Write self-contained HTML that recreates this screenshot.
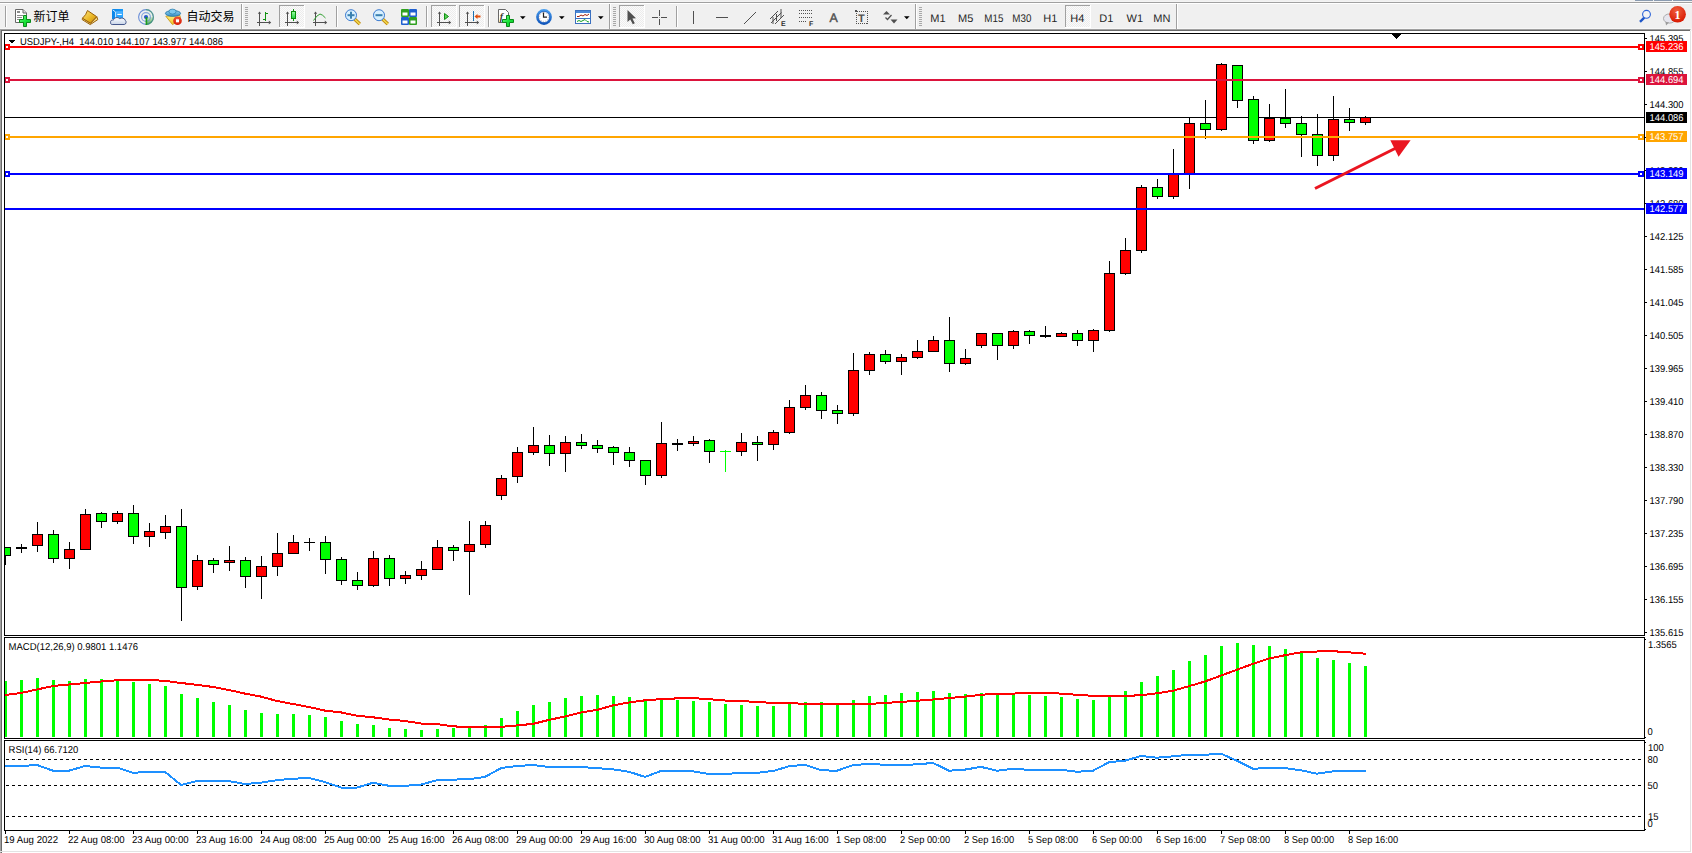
<!DOCTYPE html><html><head><meta charset="utf-8"><title>USDJPY-,H4</title><style>
html,body{margin:0;padding:0;background:#fff;}
body{width:1692px;height:853px;overflow:hidden;position:relative;}
svg{position:absolute;left:0;top:0;display:block;}
text{font-family:"Liberation Sans","Noto Sans CJK SC",sans-serif;text-rendering:geometricPrecision;}
.ax{font-size:9.4px;fill:#000;}
.tb{font-size:11px;fill:#3c3c3c;}
</style></head><body>
<svg width="1692" height="853" viewBox="0 0 1692 853">
<defs><clipPath id="cm"><rect x="5" y="34" width="1639" height="601"/></clipPath><clipPath id="cmacd"><rect x="5" y="638" width="1639" height="100"/></clipPath><clipPath id="crsi"><rect x="5" y="741" width="1639" height="89"/></clipPath></defs>
<g shape-rendering="crispEdges">
<rect x="0" y="0" width="1692" height="1" fill="#f0f0f0"/>
<rect x="0" y="1" width="1692" height="1" fill="#f4f4f4"/>
<rect x="0" y="2" width="1692" height="1" fill="#a0a0a0"/>
<rect x="0" y="3" width="1692" height="1" fill="#ffffff"/>
<rect x="0" y="4" width="1692" height="24" fill="#f0f0f0"/>
<rect x="0" y="28" width="1690" height="1" fill="#f7f7f7"/>
<rect x="0" y="29" width="1690" height="1" fill="#a0a0a0"/>
<rect x="0" y="30" width="1690" height="1" fill="#696969"/>
<rect x="1690" y="28" width="2" height="3" fill="#f4f4f4"/>
<rect x="1690" y="29" width="1" height="1" fill="#c8c8c8"/>
<rect x="0" y="31" width="1692" height="822" fill="#ffffff"/>
<rect x="0" y="30" width="1" height="823" fill="#a0a0a0"/>
<rect x="1" y="31" width="1" height="822" fill="#696969"/>
<rect x="1690" y="31" width="1" height="821" fill="#e3e3e3"/>
<rect x="0" y="851" width="1691" height="1" fill="#e3e3e3"/>
<rect x="1635" y="0" width="18" height="1" fill="#8a9bb0"/>
<rect x="1654" y="0" width="18" height="1" fill="#8a9bb0"/>
<rect x="1673" y="0" width="19" height="1" fill="#8a9bb0"/>
<rect x="4" y="33" width="1641" height="1" fill="#000"/>
<rect x="4" y="635" width="1641" height="1" fill="#000"/>
<rect x="4" y="33" width="1" height="603" fill="#000"/>
<rect x="1644" y="33" width="1" height="603" fill="#000"/>
<rect x="4" y="637" width="1641" height="1" fill="#000"/>
<rect x="4" y="738" width="1641" height="1" fill="#000"/>
<rect x="4" y="637" width="1" height="102" fill="#000"/>
<rect x="1644" y="637" width="1" height="102" fill="#000"/>
<rect x="4" y="740" width="1641" height="1" fill="#000"/>
<rect x="4" y="830" width="1641" height="1" fill="#000"/>
<rect x="4" y="740" width="1" height="91" fill="#000"/>
<rect x="1644" y="740" width="1" height="91" fill="#000"/>
<g clip-path="url(#cm)">
<rect x="5" y="117" width="1639" height="1" fill="#000000"/>
<rect x="5" y="547" width="1" height="18" fill="#000"/>
<rect x="0" y="547" width="11" height="9" fill="#000"/>
<rect x="1" y="548" width="9" height="7" fill="#00ff00"/>
<rect x="21" y="544" width="1" height="9" fill="#000"/>
<rect x="16" y="547" width="11" height="2" fill="#000"/>
<rect x="37" y="522" width="1" height="30" fill="#000"/>
<rect x="32" y="534" width="11" height="12" fill="#000"/>
<rect x="33" y="535" width="9" height="10" fill="#ff0000"/>
<rect x="53" y="530" width="1" height="33" fill="#000"/>
<rect x="48" y="534" width="11" height="25" fill="#000"/>
<rect x="49" y="535" width="9" height="23" fill="#00ff00"/>
<rect x="69" y="542" width="1" height="27" fill="#000"/>
<rect x="64" y="549" width="11" height="10" fill="#000"/>
<rect x="65" y="550" width="9" height="8" fill="#ff0000"/>
<rect x="85" y="509" width="1" height="41" fill="#000"/>
<rect x="80" y="514" width="11" height="36" fill="#000"/>
<rect x="81" y="515" width="9" height="34" fill="#ff0000"/>
<rect x="101" y="512" width="1" height="16" fill="#000"/>
<rect x="96" y="513" width="11" height="9" fill="#000"/>
<rect x="97" y="514" width="9" height="7" fill="#00ff00"/>
<rect x="117" y="511" width="1" height="13" fill="#000"/>
<rect x="112" y="513" width="11" height="9" fill="#000"/>
<rect x="113" y="514" width="9" height="7" fill="#ff0000"/>
<rect x="133" y="505" width="1" height="39" fill="#000"/>
<rect x="128" y="513" width="11" height="24" fill="#000"/>
<rect x="129" y="514" width="9" height="22" fill="#00ff00"/>
<rect x="149" y="523" width="1" height="24" fill="#000"/>
<rect x="144" y="531" width="11" height="6" fill="#000"/>
<rect x="145" y="532" width="9" height="4" fill="#ff0000"/>
<rect x="165" y="515" width="1" height="24" fill="#000"/>
<rect x="160" y="526" width="11" height="7" fill="#000"/>
<rect x="161" y="527" width="9" height="5" fill="#ff0000"/>
<rect x="181" y="509" width="1" height="112" fill="#000"/>
<rect x="176" y="526" width="11" height="62" fill="#000"/>
<rect x="177" y="527" width="9" height="60" fill="#00ff00"/>
<rect x="197" y="555" width="1" height="35" fill="#000"/>
<rect x="192" y="560" width="11" height="27" fill="#000"/>
<rect x="193" y="561" width="9" height="25" fill="#ff0000"/>
<rect x="213" y="558" width="1" height="15" fill="#000"/>
<rect x="208" y="560" width="11" height="5" fill="#000"/>
<rect x="209" y="561" width="9" height="3" fill="#00ff00"/>
<rect x="229" y="546" width="1" height="25" fill="#000"/>
<rect x="224" y="560" width="11" height="3" fill="#000"/>
<rect x="225" y="561" width="9" height="1" fill="#ff0000"/>
<rect x="245" y="557" width="1" height="31" fill="#000"/>
<rect x="240" y="560" width="11" height="17" fill="#000"/>
<rect x="241" y="561" width="9" height="15" fill="#00ff00"/>
<rect x="261" y="556" width="1" height="43" fill="#000"/>
<rect x="256" y="566" width="11" height="11" fill="#000"/>
<rect x="257" y="567" width="9" height="9" fill="#ff0000"/>
<rect x="277" y="533" width="1" height="43" fill="#000"/>
<rect x="272" y="553" width="11" height="14" fill="#000"/>
<rect x="273" y="554" width="9" height="12" fill="#ff0000"/>
<rect x="293" y="535" width="1" height="19" fill="#000"/>
<rect x="288" y="542" width="11" height="12" fill="#000"/>
<rect x="289" y="543" width="9" height="10" fill="#ff0000"/>
<rect x="309" y="538" width="1" height="13" fill="#000"/>
<rect x="304" y="542" width="11" height="1" fill="#000"/>
<rect x="325" y="536" width="1" height="38" fill="#000"/>
<rect x="320" y="542" width="11" height="18" fill="#000"/>
<rect x="321" y="543" width="9" height="16" fill="#00ff00"/>
<rect x="341" y="557" width="1" height="28" fill="#000"/>
<rect x="336" y="559" width="11" height="22" fill="#000"/>
<rect x="337" y="560" width="9" height="20" fill="#00ff00"/>
<rect x="357" y="572" width="1" height="18" fill="#000"/>
<rect x="352" y="580" width="11" height="6" fill="#000"/>
<rect x="353" y="581" width="9" height="4" fill="#00ff00"/>
<rect x="373" y="551" width="1" height="36" fill="#000"/>
<rect x="368" y="558" width="11" height="28" fill="#000"/>
<rect x="369" y="559" width="9" height="26" fill="#ff0000"/>
<rect x="389" y="555" width="1" height="31" fill="#000"/>
<rect x="384" y="558" width="11" height="21" fill="#000"/>
<rect x="385" y="559" width="9" height="19" fill="#00ff00"/>
<rect x="405" y="571" width="1" height="13" fill="#000"/>
<rect x="400" y="575" width="11" height="4" fill="#000"/>
<rect x="401" y="576" width="9" height="2" fill="#ff0000"/>
<rect x="421" y="561" width="1" height="19" fill="#000"/>
<rect x="416" y="569" width="11" height="7" fill="#000"/>
<rect x="417" y="570" width="9" height="5" fill="#ff0000"/>
<rect x="437" y="540" width="1" height="30" fill="#000"/>
<rect x="432" y="547" width="11" height="23" fill="#000"/>
<rect x="433" y="548" width="9" height="21" fill="#ff0000"/>
<rect x="453" y="545" width="1" height="16" fill="#000"/>
<rect x="448" y="547" width="11" height="4" fill="#000"/>
<rect x="449" y="548" width="9" height="2" fill="#00ff00"/>
<rect x="469" y="521" width="1" height="74" fill="#000"/>
<rect x="464" y="544" width="11" height="8" fill="#000"/>
<rect x="465" y="545" width="9" height="6" fill="#ff0000"/>
<rect x="485" y="521" width="1" height="27" fill="#000"/>
<rect x="480" y="525" width="11" height="20" fill="#000"/>
<rect x="481" y="526" width="9" height="18" fill="#ff0000"/>
<rect x="501" y="475" width="1" height="25" fill="#000"/>
<rect x="496" y="478" width="11" height="18" fill="#000"/>
<rect x="497" y="479" width="9" height="16" fill="#ff0000"/>
<rect x="517" y="447" width="1" height="36" fill="#000"/>
<rect x="512" y="452" width="11" height="25" fill="#000"/>
<rect x="513" y="453" width="9" height="23" fill="#ff0000"/>
<rect x="533" y="427" width="1" height="28" fill="#000"/>
<rect x="528" y="445" width="11" height="8" fill="#000"/>
<rect x="529" y="446" width="9" height="6" fill="#ff0000"/>
<rect x="549" y="435" width="1" height="31" fill="#000"/>
<rect x="544" y="445" width="11" height="9" fill="#000"/>
<rect x="545" y="446" width="9" height="7" fill="#00ff00"/>
<rect x="565" y="436" width="1" height="36" fill="#000"/>
<rect x="560" y="442" width="11" height="12" fill="#000"/>
<rect x="561" y="443" width="9" height="10" fill="#ff0000"/>
<rect x="581" y="434" width="1" height="15" fill="#000"/>
<rect x="576" y="442" width="11" height="4" fill="#000"/>
<rect x="577" y="443" width="9" height="2" fill="#00ff00"/>
<rect x="597" y="440" width="1" height="13" fill="#000"/>
<rect x="592" y="445" width="11" height="4" fill="#000"/>
<rect x="593" y="446" width="9" height="2" fill="#00ff00"/>
<rect x="613" y="446" width="1" height="19" fill="#000"/>
<rect x="608" y="447" width="11" height="6" fill="#000"/>
<rect x="609" y="448" width="9" height="4" fill="#00ff00"/>
<rect x="629" y="447" width="1" height="20" fill="#000"/>
<rect x="624" y="452" width="11" height="9" fill="#000"/>
<rect x="625" y="453" width="9" height="7" fill="#00ff00"/>
<rect x="645" y="460" width="1" height="25" fill="#000"/>
<rect x="640" y="460" width="11" height="16" fill="#000"/>
<rect x="641" y="461" width="9" height="14" fill="#00ff00"/>
<rect x="661" y="422" width="1" height="56" fill="#000"/>
<rect x="656" y="443" width="11" height="33" fill="#000"/>
<rect x="657" y="444" width="9" height="31" fill="#ff0000"/>
<rect x="677" y="439" width="1" height="12" fill="#000"/>
<rect x="672" y="443" width="11" height="2" fill="#000"/>
<rect x="693" y="436" width="1" height="10" fill="#000"/>
<rect x="688" y="441" width="11" height="3" fill="#000"/>
<rect x="689" y="442" width="9" height="1" fill="#ff0000"/>
<rect x="709" y="439" width="1" height="24" fill="#000"/>
<rect x="704" y="440" width="11" height="12" fill="#000"/>
<rect x="705" y="441" width="9" height="10" fill="#00ff00"/>
<rect x="725" y="450" width="1" height="22" fill="#00ff00"/>
<rect x="720" y="451" width="11" height="1" fill="#00ff00"/>
<rect x="741" y="433" width="1" height="23" fill="#000"/>
<rect x="736" y="442" width="11" height="10" fill="#000"/>
<rect x="737" y="443" width="9" height="8" fill="#ff0000"/>
<rect x="757" y="436" width="1" height="25" fill="#000"/>
<rect x="752" y="442" width="11" height="3" fill="#000"/>
<rect x="753" y="443" width="9" height="1" fill="#00ff00"/>
<rect x="773" y="430" width="1" height="20" fill="#000"/>
<rect x="768" y="432" width="11" height="13" fill="#000"/>
<rect x="769" y="433" width="9" height="11" fill="#ff0000"/>
<rect x="789" y="400" width="1" height="34" fill="#000"/>
<rect x="784" y="407" width="11" height="26" fill="#000"/>
<rect x="785" y="408" width="9" height="24" fill="#ff0000"/>
<rect x="805" y="385" width="1" height="25" fill="#000"/>
<rect x="800" y="395" width="11" height="13" fill="#000"/>
<rect x="801" y="396" width="9" height="11" fill="#ff0000"/>
<rect x="821" y="392" width="1" height="27" fill="#000"/>
<rect x="816" y="395" width="11" height="16" fill="#000"/>
<rect x="817" y="396" width="9" height="14" fill="#00ff00"/>
<rect x="837" y="405" width="1" height="19" fill="#000"/>
<rect x="832" y="410" width="11" height="4" fill="#000"/>
<rect x="833" y="411" width="9" height="2" fill="#00ff00"/>
<rect x="853" y="353" width="1" height="63" fill="#000"/>
<rect x="848" y="370" width="11" height="44" fill="#000"/>
<rect x="849" y="371" width="9" height="42" fill="#ff0000"/>
<rect x="869" y="352" width="1" height="23" fill="#000"/>
<rect x="864" y="354" width="11" height="17" fill="#000"/>
<rect x="865" y="355" width="9" height="15" fill="#ff0000"/>
<rect x="885" y="350" width="1" height="14" fill="#000"/>
<rect x="880" y="354" width="11" height="8" fill="#000"/>
<rect x="881" y="355" width="9" height="6" fill="#00ff00"/>
<rect x="901" y="354" width="1" height="21" fill="#000"/>
<rect x="896" y="357" width="11" height="5" fill="#000"/>
<rect x="897" y="358" width="9" height="3" fill="#ff0000"/>
<rect x="917" y="340" width="1" height="19" fill="#000"/>
<rect x="912" y="351" width="11" height="7" fill="#000"/>
<rect x="913" y="352" width="9" height="5" fill="#ff0000"/>
<rect x="933" y="336" width="1" height="16" fill="#000"/>
<rect x="928" y="340" width="11" height="12" fill="#000"/>
<rect x="929" y="341" width="9" height="10" fill="#ff0000"/>
<rect x="949" y="317" width="1" height="55" fill="#000"/>
<rect x="944" y="340" width="11" height="24" fill="#000"/>
<rect x="945" y="341" width="9" height="22" fill="#00ff00"/>
<rect x="965" y="349" width="1" height="16" fill="#000"/>
<rect x="960" y="358" width="11" height="6" fill="#000"/>
<rect x="961" y="359" width="9" height="4" fill="#ff0000"/>
<rect x="981" y="333" width="1" height="15" fill="#000"/>
<rect x="976" y="333" width="11" height="13" fill="#000"/>
<rect x="977" y="334" width="9" height="11" fill="#ff0000"/>
<rect x="997" y="333" width="1" height="27" fill="#000"/>
<rect x="992" y="333" width="11" height="13" fill="#000"/>
<rect x="993" y="334" width="9" height="11" fill="#00ff00"/>
<rect x="1013" y="330" width="1" height="19" fill="#000"/>
<rect x="1008" y="331" width="11" height="15" fill="#000"/>
<rect x="1009" y="332" width="9" height="13" fill="#ff0000"/>
<rect x="1029" y="330" width="1" height="14" fill="#000"/>
<rect x="1024" y="331" width="11" height="5" fill="#000"/>
<rect x="1025" y="332" width="9" height="3" fill="#00ff00"/>
<rect x="1045" y="326" width="1" height="12" fill="#000"/>
<rect x="1040" y="335" width="11" height="2" fill="#000"/>
<rect x="1061" y="332" width="1" height="5" fill="#000"/>
<rect x="1056" y="333" width="11" height="4" fill="#000"/>
<rect x="1057" y="334" width="9" height="2" fill="#ff0000"/>
<rect x="1077" y="330" width="1" height="16" fill="#000"/>
<rect x="1072" y="333" width="11" height="8" fill="#000"/>
<rect x="1073" y="334" width="9" height="6" fill="#00ff00"/>
<rect x="1093" y="329" width="1" height="23" fill="#000"/>
<rect x="1088" y="330" width="11" height="11" fill="#000"/>
<rect x="1089" y="331" width="9" height="9" fill="#ff0000"/>
<rect x="1109" y="261" width="1" height="71" fill="#000"/>
<rect x="1104" y="273" width="11" height="58" fill="#000"/>
<rect x="1105" y="274" width="9" height="56" fill="#ff0000"/>
<rect x="1125" y="238" width="1" height="37" fill="#000"/>
<rect x="1120" y="250" width="11" height="24" fill="#000"/>
<rect x="1121" y="251" width="9" height="22" fill="#ff0000"/>
<rect x="1141" y="185" width="1" height="68" fill="#000"/>
<rect x="1136" y="187" width="11" height="64" fill="#000"/>
<rect x="1137" y="188" width="9" height="62" fill="#ff0000"/>
<rect x="1157" y="179" width="1" height="20" fill="#000"/>
<rect x="1152" y="187" width="11" height="10" fill="#000"/>
<rect x="1153" y="188" width="9" height="8" fill="#00ff00"/>
<rect x="1173" y="149" width="1" height="50" fill="#000"/>
<rect x="1168" y="174" width="11" height="23" fill="#000"/>
<rect x="1169" y="175" width="9" height="21" fill="#ff0000"/>
<rect x="1189" y="117" width="1" height="72" fill="#000"/>
<rect x="1184" y="123" width="11" height="51" fill="#000"/>
<rect x="1185" y="124" width="9" height="49" fill="#ff0000"/>
<rect x="1205" y="100" width="1" height="39" fill="#000"/>
<rect x="1200" y="123" width="11" height="7" fill="#000"/>
<rect x="1201" y="124" width="9" height="5" fill="#00ff00"/>
<rect x="1221" y="63" width="1" height="68" fill="#000"/>
<rect x="1216" y="64" width="11" height="66" fill="#000"/>
<rect x="1217" y="65" width="9" height="64" fill="#ff0000"/>
<rect x="1237" y="65" width="1" height="43" fill="#000"/>
<rect x="1232" y="65" width="11" height="36" fill="#000"/>
<rect x="1233" y="66" width="9" height="34" fill="#00ff00"/>
<rect x="1253" y="96" width="1" height="48" fill="#000"/>
<rect x="1248" y="99" width="11" height="42" fill="#000"/>
<rect x="1249" y="100" width="9" height="40" fill="#00ff00"/>
<rect x="1269" y="104" width="1" height="38" fill="#000"/>
<rect x="1264" y="118" width="11" height="23" fill="#000"/>
<rect x="1265" y="119" width="9" height="21" fill="#ff0000"/>
<rect x="1285" y="89" width="1" height="39" fill="#000"/>
<rect x="1280" y="118" width="11" height="6" fill="#000"/>
<rect x="1281" y="119" width="9" height="4" fill="#00ff00"/>
<rect x="1301" y="116" width="1" height="41" fill="#000"/>
<rect x="1296" y="123" width="11" height="12" fill="#000"/>
<rect x="1297" y="124" width="9" height="10" fill="#00ff00"/>
<rect x="1317" y="114" width="1" height="52" fill="#000"/>
<rect x="1312" y="134" width="11" height="22" fill="#000"/>
<rect x="1313" y="135" width="9" height="20" fill="#00ff00"/>
<rect x="1333" y="96" width="1" height="65" fill="#000"/>
<rect x="1328" y="119" width="11" height="37" fill="#000"/>
<rect x="1329" y="120" width="9" height="35" fill="#ff0000"/>
<rect x="1349" y="108" width="1" height="23" fill="#000"/>
<rect x="1344" y="119" width="11" height="4" fill="#000"/>
<rect x="1345" y="120" width="9" height="2" fill="#00ff00"/>
<rect x="1365" y="116" width="1" height="9" fill="#000"/>
<rect x="1360" y="117" width="11" height="6" fill="#000"/>
<rect x="1361" y="118" width="9" height="4" fill="#ff0000"/>
<rect x="5" y="46" width="1639" height="2" fill="#ff0000"/>
<rect x="5" y="79" width="1639" height="2" fill="#dc143c"/>
<rect x="5" y="136" width="1639" height="2" fill="#ffa500"/>
<rect x="5" y="173" width="1639" height="2" fill="#0000ff"/>
<rect x="5" y="208" width="1639" height="2" fill="#0000ff"/>
<rect x="4" y="44" width="6" height="6" fill="#ff0000"/>
<rect x="6" y="46" width="2" height="2" fill="#ffffff"/>
<rect x="1638" y="44" width="6" height="6" fill="#ff0000"/>
<rect x="1640" y="46" width="2" height="2" fill="#ffffff"/>
<rect x="4" y="77" width="6" height="6" fill="#dc143c"/>
<rect x="6" y="79" width="2" height="2" fill="#ffffff"/>
<rect x="1638" y="77" width="6" height="6" fill="#dc143c"/>
<rect x="1640" y="79" width="2" height="2" fill="#ffffff"/>
<rect x="4" y="134" width="6" height="6" fill="#ffa500"/>
<rect x="6" y="136" width="2" height="2" fill="#ffffff"/>
<rect x="1638" y="134" width="6" height="6" fill="#ffa500"/>
<rect x="1640" y="136" width="2" height="2" fill="#ffffff"/>
<rect x="4" y="171" width="6" height="6" fill="#0000ff"/>
<rect x="6" y="173" width="2" height="2" fill="#ffffff"/>
<rect x="1638" y="171" width="6" height="6" fill="#0000ff"/>
<rect x="1640" y="173" width="2" height="2" fill="#ffffff"/>
</g>
<polygon points="1391,33 1402,33 1396.5,39" fill="#000"/>
<polygon points="8,40 15,40 11.5,43.5" fill="#000"/>
</g>
<line x1="1315" y1="188.5" x2="1397" y2="147.5" stroke="#ea1520" stroke-width="3"/>
<polygon points="1390.3,140.3 1410.6,140.3 1398.6,156.8" fill="#ea1520"/>
<g shape-rendering="crispEdges" clip-path="url(#cmacd)">
<rect x="4" y="681" width="3" height="56" fill="#00ff00"/>
<rect x="20" y="680" width="3" height="57" fill="#00ff00"/>
<rect x="36" y="678" width="3" height="59" fill="#00ff00"/>
<rect x="52" y="680" width="3" height="57" fill="#00ff00"/>
<rect x="68" y="681" width="3" height="56" fill="#00ff00"/>
<rect x="84" y="679" width="3" height="58" fill="#00ff00"/>
<rect x="100" y="679" width="3" height="58" fill="#00ff00"/>
<rect x="116" y="679" width="3" height="58" fill="#00ff00"/>
<rect x="132" y="682" width="3" height="55" fill="#00ff00"/>
<rect x="148" y="684" width="3" height="53" fill="#00ff00"/>
<rect x="164" y="686" width="3" height="51" fill="#00ff00"/>
<rect x="180" y="694" width="3" height="43" fill="#00ff00"/>
<rect x="196" y="698" width="3" height="39" fill="#00ff00"/>
<rect x="212" y="702" width="3" height="35" fill="#00ff00"/>
<rect x="228" y="705" width="3" height="32" fill="#00ff00"/>
<rect x="244" y="710" width="3" height="27" fill="#00ff00"/>
<rect x="260" y="713" width="3" height="24" fill="#00ff00"/>
<rect x="276" y="714" width="3" height="23" fill="#00ff00"/>
<rect x="292" y="714" width="3" height="23" fill="#00ff00"/>
<rect x="308" y="715" width="3" height="22" fill="#00ff00"/>
<rect x="324" y="717" width="3" height="20" fill="#00ff00"/>
<rect x="340" y="721" width="3" height="16" fill="#00ff00"/>
<rect x="356" y="724" width="3" height="13" fill="#00ff00"/>
<rect x="372" y="725" width="3" height="12" fill="#00ff00"/>
<rect x="388" y="728" width="3" height="9" fill="#00ff00"/>
<rect x="404" y="729" width="3" height="8" fill="#00ff00"/>
<rect x="420" y="730" width="3" height="7" fill="#00ff00"/>
<rect x="436" y="729" width="3" height="8" fill="#00ff00"/>
<rect x="452" y="728" width="3" height="9" fill="#00ff00"/>
<rect x="468" y="728" width="3" height="9" fill="#00ff00"/>
<rect x="484" y="725" width="3" height="12" fill="#00ff00"/>
<rect x="500" y="718" width="3" height="19" fill="#00ff00"/>
<rect x="516" y="711" width="3" height="26" fill="#00ff00"/>
<rect x="532" y="705" width="3" height="32" fill="#00ff00"/>
<rect x="548" y="702" width="3" height="35" fill="#00ff00"/>
<rect x="564" y="698" width="3" height="39" fill="#00ff00"/>
<rect x="580" y="696" width="3" height="41" fill="#00ff00"/>
<rect x="596" y="695" width="3" height="42" fill="#00ff00"/>
<rect x="612" y="696" width="3" height="41" fill="#00ff00"/>
<rect x="628" y="697" width="3" height="40" fill="#00ff00"/>
<rect x="644" y="700" width="3" height="37" fill="#00ff00"/>
<rect x="660" y="700" width="3" height="37" fill="#00ff00"/>
<rect x="676" y="700" width="3" height="37" fill="#00ff00"/>
<rect x="692" y="701" width="3" height="36" fill="#00ff00"/>
<rect x="708" y="702" width="3" height="35" fill="#00ff00"/>
<rect x="724" y="704" width="3" height="33" fill="#00ff00"/>
<rect x="740" y="705" width="3" height="32" fill="#00ff00"/>
<rect x="756" y="706" width="3" height="31" fill="#00ff00"/>
<rect x="772" y="706" width="3" height="31" fill="#00ff00"/>
<rect x="788" y="703" width="3" height="34" fill="#00ff00"/>
<rect x="804" y="702" width="3" height="35" fill="#00ff00"/>
<rect x="820" y="702" width="3" height="35" fill="#00ff00"/>
<rect x="836" y="704" width="3" height="33" fill="#00ff00"/>
<rect x="852" y="700" width="3" height="37" fill="#00ff00"/>
<rect x="868" y="696" width="3" height="41" fill="#00ff00"/>
<rect x="884" y="695" width="3" height="42" fill="#00ff00"/>
<rect x="900" y="693" width="3" height="44" fill="#00ff00"/>
<rect x="916" y="692" width="3" height="45" fill="#00ff00"/>
<rect x="932" y="691" width="3" height="46" fill="#00ff00"/>
<rect x="948" y="693" width="3" height="44" fill="#00ff00"/>
<rect x="964" y="694" width="3" height="43" fill="#00ff00"/>
<rect x="980" y="693" width="3" height="44" fill="#00ff00"/>
<rect x="996" y="694" width="3" height="43" fill="#00ff00"/>
<rect x="1012" y="694" width="3" height="43" fill="#00ff00"/>
<rect x="1028" y="695" width="3" height="42" fill="#00ff00"/>
<rect x="1044" y="696" width="3" height="41" fill="#00ff00"/>
<rect x="1060" y="697" width="3" height="40" fill="#00ff00"/>
<rect x="1076" y="699" width="3" height="38" fill="#00ff00"/>
<rect x="1092" y="700" width="3" height="37" fill="#00ff00"/>
<rect x="1108" y="696" width="3" height="41" fill="#00ff00"/>
<rect x="1124" y="691" width="3" height="46" fill="#00ff00"/>
<rect x="1140" y="682" width="3" height="55" fill="#00ff00"/>
<rect x="1156" y="676" width="3" height="61" fill="#00ff00"/>
<rect x="1172" y="670" width="3" height="67" fill="#00ff00"/>
<rect x="1188" y="661" width="3" height="76" fill="#00ff00"/>
<rect x="1204" y="655" width="3" height="82" fill="#00ff00"/>
<rect x="1220" y="646" width="3" height="91" fill="#00ff00"/>
<rect x="1236" y="643" width="3" height="94" fill="#00ff00"/>
<rect x="1252" y="645" width="3" height="92" fill="#00ff00"/>
<rect x="1268" y="646" width="3" height="91" fill="#00ff00"/>
<rect x="1284" y="649" width="3" height="88" fill="#00ff00"/>
<rect x="1300" y="652" width="3" height="85" fill="#00ff00"/>
<rect x="1316" y="658" width="3" height="79" fill="#00ff00"/>
<rect x="1332" y="660" width="3" height="77" fill="#00ff00"/>
<rect x="1348" y="663" width="3" height="74" fill="#00ff00"/>
<rect x="1364" y="666" width="3" height="71" fill="#00ff00"/>
</g>
<g clip-path="url(#cmacd)"><polyline points="5,695 21,693 37,689.5 53,686 69,684.5 85,683 101,681.5 117,680.3 133,680 149,680 165,680.8 181,683 197,684.8 213,687 229,690 245,693.6 261,696.6 277,701 293,704 309,707 325,710.6 341,712.4 357,715.8 373,717.3 389,719.5 405,721 421,723.5 437,724 453,726.4 469,726.9 485,726.9 501,726.9 517,725.4 533,723.9 549,719.9 565,716.5 581,712.5 597,709.9 613,705.4 629,702.5 645,700.3 661,699.1 677,698.4 693,698.1 709,699.2 725,700.5 741,701 757,702 773,702.9 789,702.9 805,704 821,704 837,704 853,704 869,704 885,702.9 901,702 917,700.7 933,699.5 949,698 965,696.6 981,694.8 997,693.6 1013,693.6 1029,692.9 1045,692.9 1061,693.6 1077,694.8 1093,695.8 1109,695.8 1125,695.8 1141,695.3 1157,693.3 1173,690.7 1189,686.2 1205,681.5 1221,675.6 1237,669.7 1253,663.8 1269,658.5 1285,655.2 1301,652.3 1317,651.5 1333,651.2 1349,652.3 1365,653.7" fill="none" stroke="#ff0000" stroke-width="2" stroke-linecap="square" shape-rendering="crispEdges"/></g>
<g shape-rendering="crispEdges" clip-path="url(#crsi)">
<line x1="6" y1="759.5" x2="1644" y2="759.5" stroke="#000" stroke-width="1" stroke-dasharray="3 3"/>
<line x1="6" y1="785.5" x2="1644" y2="785.5" stroke="#000" stroke-width="1" stroke-dasharray="3 3"/>
<line x1="6" y1="816.5" x2="1644" y2="816.5" stroke="#000" stroke-width="1" stroke-dasharray="3 3"/>
</g>
<g clip-path="url(#crsi)"><polyline points="5,766 21,766 37,765 53,770.7 69,770.7 85,766 101,767.6 117,767.6 133,772.8 149,771.8 165,771.8 181,785 197,781.1 213,781.1 229,781.1 245,784 261,782.6 277,780.2 293,778.7 309,778.1 325,782.1 341,787.6 357,787.6 373,782.8 389,785.8 405,785.8 421,784.6 437,780.2 453,779.6 469,779.2 485,776.9 501,768.1 517,765.9 533,765.1 549,766.9 565,766.9 581,767 597,768.1 613,769.3 629,771.8 645,776.9 661,771 677,771 693,771.3 709,774 725,774 741,772.8 757,772.8 773,771 789,766.3 805,764.7 821,770.3 837,770.7 853,765.1 869,763.9 885,764.8 901,764.8 917,764.4 933,762.9 949,770.7 965,769.6 981,766.9 997,770.7 1013,768.8 1029,769.8 1045,769.8 1061,769.8 1077,771.8 1093,770.7 1109,762.2 1125,760.7 1141,756 1157,757.7 1173,756.3 1189,754.8 1205,754.8 1221,753.7 1237,760.7 1253,768.8 1269,767.8 1285,768.1 1301,770.3 1317,773.7 1333,771.3 1349,770.7 1365,770.7" fill="none" stroke="#1e90ff" stroke-width="2" stroke-linecap="square" shape-rendering="crispEdges"/></g>
<g shape-rendering="crispEdges">
<rect x="1645" y="38" width="2" height="1" fill="#000"/>
<rect x="1645" y="71" width="2" height="1" fill="#000"/>
<rect x="1645" y="104" width="2" height="1" fill="#000"/>
<rect x="1645" y="137" width="2" height="1" fill="#000"/>
<rect x="1645" y="170" width="2" height="1" fill="#000"/>
<rect x="1645" y="203" width="2" height="1" fill="#000"/>
<rect x="1645" y="236" width="2" height="1" fill="#000"/>
<rect x="1645" y="269" width="2" height="1" fill="#000"/>
<rect x="1645" y="302" width="2" height="1" fill="#000"/>
<rect x="1645" y="335" width="2" height="1" fill="#000"/>
<rect x="1645" y="368" width="2" height="1" fill="#000"/>
<rect x="1645" y="401" width="2" height="1" fill="#000"/>
<rect x="1645" y="434" width="2" height="1" fill="#000"/>
<rect x="1645" y="467" width="2" height="1" fill="#000"/>
<rect x="1645" y="500" width="2" height="1" fill="#000"/>
<rect x="1645" y="533" width="2" height="1" fill="#000"/>
<rect x="1645" y="566" width="2" height="1" fill="#000"/>
<rect x="1645" y="599" width="2" height="1" fill="#000"/>
<rect x="1645" y="632" width="2" height="1" fill="#000"/>
</g>
<text transform="translate(1649.6 42) scale(0.94 1)" style="font-size:10px;fill:#000">145.395</text>
<text transform="translate(1649.6 75) scale(0.94 1)" style="font-size:10px;fill:#000">144.855</text>
<text transform="translate(1649.6 108) scale(0.94 1)" style="font-size:10px;fill:#000">144.300</text>
<text transform="translate(1649.6 141) scale(0.94 1)" style="font-size:10px;fill:#000">143.760</text>
<text transform="translate(1649.6 174) scale(0.94 1)" style="font-size:10px;fill:#000">143.220</text>
<text transform="translate(1649.6 207) scale(0.94 1)" style="font-size:10px;fill:#000">142.680</text>
<text transform="translate(1649.6 240) scale(0.94 1)" style="font-size:10px;fill:#000">142.125</text>
<text transform="translate(1649.6 273) scale(0.94 1)" style="font-size:10px;fill:#000">141.585</text>
<text transform="translate(1649.6 306) scale(0.94 1)" style="font-size:10px;fill:#000">141.045</text>
<text transform="translate(1649.6 339) scale(0.94 1)" style="font-size:10px;fill:#000">140.505</text>
<text transform="translate(1649.6 372) scale(0.94 1)" style="font-size:10px;fill:#000">139.965</text>
<text transform="translate(1649.6 405) scale(0.94 1)" style="font-size:10px;fill:#000">139.410</text>
<text transform="translate(1649.6 438) scale(0.94 1)" style="font-size:10px;fill:#000">138.870</text>
<text transform="translate(1649.6 471) scale(0.94 1)" style="font-size:10px;fill:#000">138.330</text>
<text transform="translate(1649.6 504) scale(0.94 1)" style="font-size:10px;fill:#000">137.790</text>
<text transform="translate(1649.6 537) scale(0.94 1)" style="font-size:10px;fill:#000">137.235</text>
<text transform="translate(1649.6 570) scale(0.94 1)" style="font-size:10px;fill:#000">136.695</text>
<text transform="translate(1649.6 603) scale(0.94 1)" style="font-size:10px;fill:#000">136.155</text>
<text transform="translate(1649.6 636) scale(0.94 1)" style="font-size:10px;fill:#000">135.615</text>
<rect x="1646" y="41" width="41" height="11" fill="#ff0000" shape-rendering="crispEdges"/>
<text transform="translate(1649.6 50) scale(0.94 1)" style="font-size:10px;fill:#fff">145.236</text>
<rect x="1646" y="74" width="41" height="11" fill="#dc143c" shape-rendering="crispEdges"/>
<text transform="translate(1649.6 83) scale(0.94 1)" style="font-size:10px;fill:#fff">144.694</text>
<rect x="1646" y="112" width="41" height="11" fill="#000000" shape-rendering="crispEdges"/>
<text transform="translate(1649.6 121) scale(0.94 1)" style="font-size:10px;fill:#fff">144.086</text>
<rect x="1646" y="131" width="41" height="11" fill="#ffa500" shape-rendering="crispEdges"/>
<text transform="translate(1649.6 140) scale(0.94 1)" style="font-size:10px;fill:#fff">143.757</text>
<rect x="1646" y="168" width="41" height="11" fill="#0000ff" shape-rendering="crispEdges"/>
<text transform="translate(1649.6 177) scale(0.94 1)" style="font-size:10px;fill:#fff">143.149</text>
<rect x="1646" y="203" width="41" height="11" fill="#0000ff" shape-rendering="crispEdges"/>
<text transform="translate(1649.6 212) scale(0.94 1)" style="font-size:10px;fill:#fff">142.577</text>
<g shape-rendering="crispEdges">
<rect x="1645" y="639" width="1" height="1" fill="#000"/>
<rect x="1645" y="737" width="1" height="1" fill="#000"/>
<rect x="1645" y="742" width="1" height="1" fill="#000"/>
<rect x="1645" y="829" width="1" height="1" fill="#000"/>
</g>
<text transform="translate(1648.0 648) scale(0.94 1)" style="font-size:10px;fill:#000">1.3565</text>
<text transform="translate(1647.4 735) scale(0.94 1)" style="font-size:10px;fill:#000">0</text>
<text transform="translate(1648.0 751) scale(0.94 1)" style="font-size:10px;fill:#000">100</text>
<text transform="translate(1647.4 763) scale(0.94 1)" style="font-size:10px;fill:#000">80</text>
<text transform="translate(1647.4 789) scale(0.94 1)" style="font-size:10px;fill:#000">50</text>
<text transform="translate(1648.0 820) scale(0.94 1)" style="font-size:10px;fill:#000">15</text>
<text transform="translate(1647.4 827) scale(0.94 1)" style="font-size:10px;fill:#000">0</text>
<g shape-rendering="crispEdges">
<rect x="5" y="831" width="1" height="3" fill="#000"/>
<rect x="69" y="831" width="1" height="3" fill="#000"/>
<rect x="133" y="831" width="1" height="3" fill="#000"/>
<rect x="197" y="831" width="1" height="3" fill="#000"/>
<rect x="261" y="831" width="1" height="3" fill="#000"/>
<rect x="325" y="831" width="1" height="3" fill="#000"/>
<rect x="389" y="831" width="1" height="3" fill="#000"/>
<rect x="453" y="831" width="1" height="3" fill="#000"/>
<rect x="517" y="831" width="1" height="3" fill="#000"/>
<rect x="581" y="831" width="1" height="3" fill="#000"/>
<rect x="645" y="831" width="1" height="3" fill="#000"/>
<rect x="709" y="831" width="1" height="3" fill="#000"/>
<rect x="773" y="831" width="1" height="3" fill="#000"/>
<rect x="837" y="831" width="1" height="3" fill="#000"/>
<rect x="901" y="831" width="1" height="3" fill="#000"/>
<rect x="965" y="831" width="1" height="3" fill="#000"/>
<rect x="1029" y="831" width="1" height="3" fill="#000"/>
<rect x="1093" y="831" width="1" height="3" fill="#000"/>
<rect x="1157" y="831" width="1" height="3" fill="#000"/>
<rect x="1221" y="831" width="1" height="3" fill="#000"/>
<rect x="1285" y="831" width="1" height="3" fill="#000"/>
<rect x="1349" y="831" width="1" height="3" fill="#000"/>
</g>
<text transform="translate(4.0 843) scale(0.962 1)" style="font-size:10px;fill:#000">19 Aug 2022</text>
<text transform="translate(68.0 843) scale(0.962 1)" style="font-size:10px;fill:#000">22 Aug 08:00</text>
<text transform="translate(132.0 843) scale(0.962 1)" style="font-size:10px;fill:#000">23 Aug 00:00</text>
<text transform="translate(196.0 843) scale(0.962 1)" style="font-size:10px;fill:#000">23 Aug 16:00</text>
<text transform="translate(260.0 843) scale(0.962 1)" style="font-size:10px;fill:#000">24 Aug 08:00</text>
<text transform="translate(324.0 843) scale(0.962 1)" style="font-size:10px;fill:#000">25 Aug 00:00</text>
<text transform="translate(388.0 843) scale(0.962 1)" style="font-size:10px;fill:#000">25 Aug 16:00</text>
<text transform="translate(452.0 843) scale(0.962 1)" style="font-size:10px;fill:#000">26 Aug 08:00</text>
<text transform="translate(516.0 843) scale(0.962 1)" style="font-size:10px;fill:#000">29 Aug 00:00</text>
<text transform="translate(580.0 843) scale(0.962 1)" style="font-size:10px;fill:#000">29 Aug 16:00</text>
<text transform="translate(644.0 843) scale(0.962 1)" style="font-size:10px;fill:#000">30 Aug 08:00</text>
<text transform="translate(708.0 843) scale(0.962 1)" style="font-size:10px;fill:#000">31 Aug 00:00</text>
<text transform="translate(772.0 843) scale(0.962 1)" style="font-size:10px;fill:#000">31 Aug 16:00</text>
<text transform="translate(836.0 843) scale(0.93 1)" style="font-size:10px;fill:#000">1 Sep 08:00</text>
<text transform="translate(900.0 843) scale(0.93 1)" style="font-size:10px;fill:#000">2 Sep 00:00</text>
<text transform="translate(964.0 843) scale(0.93 1)" style="font-size:10px;fill:#000">2 Sep 16:00</text>
<text transform="translate(1028.0 843) scale(0.93 1)" style="font-size:10px;fill:#000">5 Sep 08:00</text>
<text transform="translate(1092.0 843) scale(0.93 1)" style="font-size:10px;fill:#000">6 Sep 00:00</text>
<text transform="translate(1156.0 843) scale(0.93 1)" style="font-size:10px;fill:#000">6 Sep 16:00</text>
<text transform="translate(1220.0 843) scale(0.93 1)" style="font-size:10px;fill:#000">7 Sep 08:00</text>
<text transform="translate(1284.0 843) scale(0.93 1)" style="font-size:10px;fill:#000">8 Sep 00:00</text>
<text transform="translate(1348.0 843) scale(0.93 1)" style="font-size:10px;fill:#000">8 Sep 16:00</text>
<text transform="translate(20.0 45) scale(0.94 1)" style="font-size:10px;fill:#000">USDJPY-,H4  144.010 144.107 143.977 144.086</text>
<text transform="translate(8.6 650) scale(0.95 1)" style="font-size:10px;fill:#000">MACD(12,26,9) 0.9801 1.1476</text>
<text transform="translate(8.6 753) scale(0.95 1)" style="font-size:10px;fill:#000">RSI(14) 66.7120</text>
<defs><linearGradient id="gplus" x1="0" y1="0" x2="1" y2="1"><stop offset="0" stop-color="#8ef59a"/><stop offset="0.5" stop-color="#19e63a"/><stop offset="1" stop-color="#0cc02a"/></linearGradient><linearGradient id="gbook" x1="0" y1="0" x2="1" y2="1"><stop offset="0" stop-color="#ffe680"/><stop offset="0.6" stop-color="#e8b420"/><stop offset="1" stop-color="#c08010"/></linearGradient><linearGradient id="gblue" x1="0" y1="0" x2="1" y2="0"><stop offset="0" stop-color="#0a84e8"/><stop offset="1" stop-color="#1a9af8"/></linearGradient><linearGradient id="gcloud" x1="0" y1="0" x2="0" y2="1"><stop offset="0" stop-color="#ffffff"/><stop offset="1" stop-color="#c8d4e8"/></linearGradient><linearGradient id="ghat" x1="0" y1="0" x2="0" y2="1"><stop offset="0" stop-color="#8fd0f0"/><stop offset="1" stop-color="#3890c8"/></linearGradient><linearGradient id="gyel" x1="0" y1="0" x2="0" y2="1"><stop offset="0" stop-color="#fff080"/><stop offset="1" stop-color="#f0c020"/></linearGradient><radialGradient id="gred" cx="0.45" cy="0.3" r="0.7"><stop offset="0" stop-color="#f06040"/><stop offset="1" stop-color="#d81800"/></radialGradient><linearGradient id="gclock" x1="0" y1="0" x2="0" y2="1"><stop offset="0" stop-color="#4aa0f0"/><stop offset="1" stop-color="#0a50b8"/></linearGradient><linearGradient id="gsig" x1="0" y1="0" x2="0" y2="1"><stop offset="0" stop-color="#cfe8c8"/><stop offset="1" stop-color="#4aaa50"/></linearGradient><linearGradient id="gcandle" x1="0" y1="0" x2="0" y2="1"><stop offset="0" stop-color="#a0ffa8"/><stop offset="1" stop-color="#20d040"/></linearGradient><pattern id="dith" width="2" height="2" patternUnits="userSpaceOnUse"><rect width="2" height="2" fill="#fbfbfb"/><rect width="1" height="1" fill="#ececec"/><rect x="1" y="1" width="1" height="1" fill="#ececec"/></pattern></defs>
<g shape-rendering="crispEdges">
<rect x="5" y="6" width="1" height="21" fill="#a0a0a0"/>
<rect x="6" y="6" width="1" height="21" fill="#ffffff"/>
<rect x="336" y="6" width="1" height="21" fill="#a0a0a0"/>
<rect x="337" y="6" width="1" height="21" fill="#ffffff"/>
<rect x="426" y="6" width="1" height="21" fill="#a0a0a0"/>
<rect x="427" y="6" width="1" height="21" fill="#ffffff"/>
<rect x="488" y="6" width="1" height="21" fill="#a0a0a0"/>
<rect x="489" y="6" width="1" height="21" fill="#ffffff"/>
<rect x="676" y="6" width="1" height="21" fill="#a0a0a0"/>
<rect x="677" y="6" width="1" height="21" fill="#ffffff"/>
<rect x="241" y="4" width="1" height="25" fill="#a0a0a0"/>
<rect x="242" y="4" width="1" height="25" fill="#ffffff"/>
<rect x="609" y="4" width="1" height="25" fill="#a0a0a0"/>
<rect x="610" y="4" width="1" height="25" fill="#ffffff"/>
<rect x="915" y="4" width="1" height="25" fill="#a0a0a0"/>
<rect x="916" y="4" width="1" height="25" fill="#ffffff"/>
<rect x="1176" y="4" width="1" height="25" fill="#a0a0a0"/>
<rect x="1177" y="4" width="1" height="25" fill="#ffffff"/>
<rect x="245" y="7" width="3" height="1" fill="#a8a8a8"/>
<rect x="245" y="9" width="3" height="1" fill="#a8a8a8"/>
<rect x="245" y="11" width="3" height="1" fill="#a8a8a8"/>
<rect x="245" y="13" width="3" height="1" fill="#a8a8a8"/>
<rect x="245" y="15" width="3" height="1" fill="#a8a8a8"/>
<rect x="245" y="17" width="3" height="1" fill="#a8a8a8"/>
<rect x="245" y="19" width="3" height="1" fill="#a8a8a8"/>
<rect x="245" y="21" width="3" height="1" fill="#a8a8a8"/>
<rect x="245" y="23" width="3" height="1" fill="#a8a8a8"/>
<rect x="245" y="25" width="3" height="1" fill="#a8a8a8"/>
<rect x="613" y="7" width="3" height="1" fill="#a8a8a8"/>
<rect x="613" y="9" width="3" height="1" fill="#a8a8a8"/>
<rect x="613" y="11" width="3" height="1" fill="#a8a8a8"/>
<rect x="613" y="13" width="3" height="1" fill="#a8a8a8"/>
<rect x="613" y="15" width="3" height="1" fill="#a8a8a8"/>
<rect x="613" y="17" width="3" height="1" fill="#a8a8a8"/>
<rect x="613" y="19" width="3" height="1" fill="#a8a8a8"/>
<rect x="613" y="21" width="3" height="1" fill="#a8a8a8"/>
<rect x="613" y="23" width="3" height="1" fill="#a8a8a8"/>
<rect x="613" y="25" width="3" height="1" fill="#a8a8a8"/>
<rect x="919" y="7" width="3" height="1" fill="#a8a8a8"/>
<rect x="919" y="9" width="3" height="1" fill="#a8a8a8"/>
<rect x="919" y="11" width="3" height="1" fill="#a8a8a8"/>
<rect x="919" y="13" width="3" height="1" fill="#a8a8a8"/>
<rect x="919" y="15" width="3" height="1" fill="#a8a8a8"/>
<rect x="919" y="17" width="3" height="1" fill="#a8a8a8"/>
<rect x="919" y="19" width="3" height="1" fill="#a8a8a8"/>
<rect x="919" y="21" width="3" height="1" fill="#a8a8a8"/>
<rect x="919" y="23" width="3" height="1" fill="#a8a8a8"/>
<rect x="919" y="25" width="3" height="1" fill="#a8a8a8"/>
<rect x="279" y="5" width="25" height="22" fill="url(#dith)"/>
<rect x="279" y="5" width="25" height="1" fill="#a0a0a0"/>
<rect x="279" y="5" width="1" height="22" fill="#a0a0a0"/>
<rect x="279" y="27" width="26" height="1" fill="#ffffff"/>
<rect x="304" y="5" width="1" height="23" fill="#ffffff"/>
<rect x="431" y="5" width="25" height="22" fill="url(#dith)"/>
<rect x="431" y="5" width="25" height="1" fill="#a0a0a0"/>
<rect x="431" y="5" width="1" height="22" fill="#a0a0a0"/>
<rect x="431" y="27" width="26" height="1" fill="#ffffff"/>
<rect x="456" y="5" width="1" height="23" fill="#ffffff"/>
<rect x="459" y="5" width="25" height="22" fill="url(#dith)"/>
<rect x="459" y="5" width="25" height="1" fill="#a0a0a0"/>
<rect x="459" y="5" width="1" height="22" fill="#a0a0a0"/>
<rect x="459" y="27" width="26" height="1" fill="#ffffff"/>
<rect x="484" y="5" width="1" height="23" fill="#ffffff"/>
<rect x="619" y="5" width="25" height="22" fill="url(#dith)"/>
<rect x="619" y="5" width="25" height="1" fill="#a0a0a0"/>
<rect x="619" y="5" width="1" height="22" fill="#a0a0a0"/>
<rect x="619" y="27" width="26" height="1" fill="#ffffff"/>
<rect x="644" y="5" width="1" height="23" fill="#ffffff"/>
<rect x="1065" y="5" width="25" height="22" fill="url(#dith)"/>
<rect x="1065" y="5" width="25" height="1" fill="#a0a0a0"/>
<rect x="1065" y="5" width="1" height="22" fill="#a0a0a0"/>
<rect x="1065" y="27" width="26" height="1" fill="#ffffff"/>
<rect x="1090" y="5" width="1" height="23" fill="#ffffff"/>
</g>
<path d="M15.5,9.5 H23 L26.5,13 V22.5 H15.5 Z" fill="#fff" stroke="#686868" stroke-width="1"/>
<path d="M23,9.5 V13 H26.5" fill="#ddd" stroke="#686868" stroke-width="1"/>
<g shape-rendering="crispEdges">
<rect x="17" y="11" width="3" height="2" fill="#8a8a8a"/>
<rect x="17" y="15" width="6" height="1" fill="#8a8a8a"/>
<rect x="17" y="17" width="5" height="1" fill="#8a8a8a"/>
<rect x="17" y="19" width="3" height="1" fill="#8a8a8a"/>
</g>
<path d="M23.5,15.5 H26.5 V19.5 H30.5 V22.5 H26.5 V26.5 H23.5 V22.5 H19.5 V19.5 H23.5 Z" fill="url(#gplus)" stroke="#0a8a1a" stroke-width="1"/>
<text x="33.6" y="21" style="font-family:'Noto Sans CJK SC','WenQuanYi Zen Hei',sans-serif;font-size:12px;fill:#000;text-rendering:auto">新订单</text>
<path d="M82.5,18.2 L90.5,23.2 L96.8,16.8 L97.8,19.6 L90.2,24.6 L82.2,19.6 Z" fill="#f2dc8c" stroke="#9a6008" stroke-width="1" stroke-linejoin="round"/>
<path d="M87.5,10.5 L96.6,16.6 L90.5,23.2 L82.5,18.2 L85.6,14.6 Z" fill="url(#gbook)" stroke="#9a6008" stroke-width="1" stroke-linejoin="round"/>
<rect x="112" y="9" width="11" height="10" fill="url(#gblue)"/>
<rect x="116" y="11.5" width="7" height="7.5" fill="#2aa4ff"/>
<path d="M112.6,9.8 L115.6,12 L115.6,18.5" fill="none" stroke="#e8f6ff" stroke-width="0.9"/>
<path d="M115.6,12 H122.6" fill="none" stroke="#7cc8ff" stroke-width="0.8"/>
<rect x="117.3" y="13.8" width="4.5" height="1.2" fill="#ffffff"/>
<path d="M110.6,22.8 C110.2,20.6 111.8,19.6 113.4,20.1 C113.9,17.6 117.6,16.6 119.6,18.6 C121.2,17.4 124.8,18.0 125.3,20.4 C126.6,21.2 126.3,24.5 124.2,24.5 L112.2,24.5 C111.0,24.5 110.6,23.8 110.6,22.8 Z" fill="url(#gcloud)" stroke="#44578c" stroke-width="1"/>
<path d="M146,17 L146,25 A8,8 0 0 0 154,17 Z" fill="url(#gsig)"/>
<path d="M146,17 L154,17 A8,8 0 0 0 146,9 Z" fill="#e4f0e4" fill-opacity="0.7"/>
<circle cx="146" cy="17" r="7.4" fill="none" stroke="#3f6fd0" stroke-width="1.1" stroke-opacity="0.75"/>
<circle cx="146" cy="17" r="4.4" fill="none" stroke="#5a86d4" stroke-width="1.1" stroke-opacity="0.7"/>
<path d="M146,9.6 A7.4,7.4 0 0 1 146,24.4" fill="none" stroke="#3c9a50" stroke-width="1.1" stroke-opacity="0.55"/>
<circle cx="146" cy="17" r="2.1" fill="#2a58cc"/>
<rect x="145.6" y="17" width="1.6" height="8" fill="#1c9c1c"/>
<path d="M165.8,16.2 L172.5,24.6 L180.5,19.5 L180,15.5 Z" fill="url(#gyel)" stroke="#c89a18" stroke-width="0.9"/>
<ellipse cx="173" cy="13.4" rx="7.6" ry="2.9" fill="url(#ghat)" stroke="#2a7aa8" stroke-width="0.9"/>
<ellipse cx="172.5" cy="11.6" rx="3.6" ry="2.5" fill="#7cc8f0" stroke="#2a7aa8" stroke-width="0.7"/>
<circle cx="177.5" cy="20.8" r="4.3" fill="url(#gred)"/>
<rect x="176" y="19.3" width="3" height="3" fill="#fff"/>
<text x="186.4" y="21" style="font-family:'Noto Sans CJK SC','WenQuanYi Zen Hei',sans-serif;font-size:12px;fill:#000;text-rendering:auto">自动交易</text>
<g shape-rendering="crispEdges" fill="#505050"><rect x="259" y="12" width="1" height="14"/><rect x="257" y="22" width="13" height="1"/></g>
<path d="M257.8,13.7 L259.5,11.4 L261.2,13.7 Z" fill="#505050"/>
<path d="M268.8,20.6 L271.2,22.5 L268.8,24.4 Z" fill="#505050"/>
<g shape-rendering="crispEdges" fill="#109010"><rect x="265" y="12" width="1.3" height="9"/><rect x="266" y="13" width="2" height="1.2"/><rect x="262.5" y="19" width="2.5" height="1.2"/></g>
<g shape-rendering="crispEdges" fill="#505050"><rect x="287" y="12" width="1" height="14"/><rect x="285" y="22" width="13" height="1"/></g>
<path d="M285.8,13.7 L287.5,11.4 L289.2,13.7 Z" fill="#505050"/>
<path d="M296.8,20.6 L299.2,22.5 L296.8,24.4 Z" fill="#505050"/>
<rect x="293" y="9" width="1" height="12" fill="#109010" shape-rendering="crispEdges"/>
<rect x="291.5" y="11.5" width="4" height="7" fill="url(#gcandle)" stroke="#0a900a" stroke-width="1"/>
<g shape-rendering="crispEdges" fill="#505050"><rect x="315" y="12" width="1" height="14"/><rect x="313" y="22" width="13" height="1"/></g>
<path d="M313.8,13.7 L315.5,11.4 L317.2,13.7 Z" fill="#505050"/>
<path d="M324.8,20.6 L327.2,22.5 L324.8,24.4 Z" fill="#505050"/>
<path d="M313.5,20.5 Q317,15 320,14 Q322.5,14.5 325.5,18" fill="none" stroke="#30a030" stroke-width="1"/>

<line x1="354.5" y1="19" x2="359.8" y2="24" stroke="#c08a10" stroke-width="3.4"/>
<line x1="354.5" y1="19" x2="359.8" y2="24" stroke="#f4dc50" stroke-width="1.6"/>
<circle cx="351" cy="15.2" r="5.5" fill="#d8f0ff" stroke="#3a7ad0" stroke-width="1"/>
<rect x="347.5" y="14.2" width="7" height="2" fill="#3a80b0"/>
<rect x="350" y="11.7" width="2" height="7" fill="#3a80b0"/>

<line x1="382.5" y1="19" x2="387.8" y2="24" stroke="#c08a10" stroke-width="3.4"/>
<line x1="382.5" y1="19" x2="387.8" y2="24" stroke="#f4dc50" stroke-width="1.6"/>
<circle cx="379" cy="15.2" r="5.5" fill="#d8f0ff" stroke="#3a7ad0" stroke-width="1"/>
<rect x="375.5" y="14.2" width="7" height="2" fill="#3a80b0"/>
<rect x="401" y="9" width="8" height="8" rx="1" fill="#30a020"/>
<rect x="402.5" y="12.5" width="5" height="3" fill="#fff"/>
<rect x="409" y="9" width="8" height="8" rx="1" fill="#2060d0"/>
<rect x="410.5" y="12.5" width="5" height="3" fill="#fff"/>
<rect x="401" y="17" width="8" height="8" rx="1" fill="#2060d0"/>
<rect x="402.5" y="20.5" width="5" height="3" fill="#fff"/>
<rect x="409" y="17" width="8" height="8" rx="1" fill="#30a020"/>
<rect x="410.5" y="20.5" width="5" height="3" fill="#fff"/>
<g shape-rendering="crispEdges" fill="#505050"><rect x="439" y="12" width="1" height="14"/><rect x="437" y="22" width="13" height="1"/></g>
<path d="M437.8,13.7 L439.5,11.4 L441.2,13.7 Z" fill="#505050"/>
<path d="M448.8,20.6 L451.2,22.5 L448.8,24.4 Z" fill="#505050"/>
<path d="M444.5,13.5 L448.5,16.5 L444.5,19.5 Z" fill="#5ad05a" stroke="#109010" stroke-width="1"/>
<g shape-rendering="crispEdges" fill="#505050"><rect x="467" y="12" width="1" height="14"/><rect x="465" y="22" width="13" height="1"/></g>
<path d="M465.8,13.7 L467.5,11.4 L469.2,13.7 Z" fill="#505050"/>
<path d="M476.8,20.6 L479.2,22.5 L476.8,24.4 Z" fill="#505050"/>
<rect x="473" y="11" width="1" height="10" fill="#1a70b0" shape-rendering="crispEdges"/>
<path d="M474.5,16.5 L477.5,14 L477.5,15.6 L480.5,15.6 L480.5,17.4 L477.5,17.4 L477.5,19 Z" fill="#e05010"/>
<path d="M498.5,9.5 H505.5 L508.5,12.5 V22.5 H498.5 Z" fill="#fff" stroke="#686868" stroke-width="1"/>
<text x="499.8" y="19.5" style="font-family:'Liberation Serif',serif;font-size:10px;font-style:italic;font-weight:bold;fill:#403828">f</text>
<path d="M506.5,15.5 H509.5 V19.5 H513.5 V22.5 H509.5 V26.5 H506.5 V22.5 H502.5 V19.5 H506.5 Z" fill="url(#gplus)" stroke="#0a8a1a" stroke-width="1"/>
<path d="M520,16.2 H525.6 L522.8,19.2 Z" fill="#000"/>
<path d="M559,16.2 H564.6 L561.8,19.2 Z" fill="#000"/>
<path d="M598,16.2 H603.6 L600.8,19.2 Z" fill="#000"/>
<path d="M904,16.2 H909.6 L906.8,19.2 Z" fill="#000"/>
<circle cx="544" cy="17" r="7.9" fill="url(#gclock)"/>
<circle cx="544" cy="17" r="5.6" fill="#fff" stroke="#0a4ab0" stroke-width="0.6"/>
<circle cx="544" cy="17" r="4.4" fill="none" stroke="#a0a0a0" stroke-width="0.8" stroke-dasharray="0.8 1.5"/>
<path d="M543.5,12.6 V17.2 H547" fill="none" stroke="#202020" stroke-width="1.2"/>
<rect x="575.5" y="10.5" width="15" height="13" fill="#fff" stroke="#3a70c0" stroke-width="1"/>
<rect x="576" y="11" width="14" height="2" fill="#4a88d8"/>
<rect x="576" y="18" width="14" height="1" fill="#3a70c0"/>
<polyline points="577,16.5 579,16.5 581,15 583,16 585,14.5 587,15.5 589,14" fill="none" stroke="#a02010" stroke-width="1"/>
<polyline points="577,21.5 579,20.5 581,21.5 583,20.5 585,19.5 587,21.5 589,22" fill="none" stroke="#10a020" stroke-width="1"/>
<path d="M627.5,10 L627.5,22 L630.3,19.4 L632.8,24.2 L634.8,23.3 L632.4,18.4 L636,18.2 Z" fill="#505050"/>
<g shape-rendering="crispEdges" fill="#505050"><rect x="652" y="17" width="6" height="1"/><rect x="661" y="17" width="6" height="1"/><rect x="659" y="10" width="1" height="6" /><rect x="659" y="19" width="1" height="6"/><rect x="659" y="17" width="1" height="1" fill="#909090"/></g>
<rect x="693" y="11" width="1" height="13" fill="#505050" shape-rendering="crispEdges"/>
<rect x="716" y="17" width="12" height="1" fill="#505050" shape-rendering="crispEdges"/>
<line x1="744" y1="24" x2="756" y2="12" stroke="#505050" stroke-width="1"/>
<g stroke="#505050" stroke-width="1" fill="none"><line x1="770" y1="19" x2="778" y2="11"/><line x1="771" y1="23" x2="781.5" y2="12.5"/><line x1="775" y1="24" x2="784" y2="15"/><line x1="773" y1="17" x2="773" y2="24"/><line x1="776.5" y1="14" x2="776.5" y2="21"/><line x1="781" y1="9" x2="781" y2="18"/></g>
<text x="781" y="26" style="font-family:'Liberation Sans',sans-serif;font-size:7px;font-weight:bold;fill:#303030">E</text>
<g stroke="#505050" stroke-width="1" stroke-dasharray="1 1" shape-rendering="crispEdges"><line x1="799" y1="10.5" x2="812" y2="10.5"/><line x1="799" y1="13.5" x2="812" y2="13.5"/><line x1="799" y1="17.5" x2="812" y2="17.5"/><line x1="799" y1="21.5" x2="807" y2="21.5"/></g>
<text x="809" y="26" style="font-family:'Liberation Sans',sans-serif;font-size:7px;font-weight:bold;fill:#303030">F</text>
<text x="829.6" y="22" style="font-family:'Liberation Sans',sans-serif;font-size:12.4px;fill:#505050;stroke:#505050;stroke-width:0.45">A</text>
<rect x="856.5" y="11.5" width="11" height="12" fill="none" stroke="#505050" stroke-width="1" stroke-dasharray="1 1" shape-rendering="crispEdges"/>
<rect x="855" y="10" width="2" height="2" fill="#505050"/>
<text x="858" y="21.6" style="font-family:'Liberation Sans',sans-serif;font-size:11px;font-weight:bold;fill:#505050">T</text>
<path d="M883,14.5 L886.5,11 L890,14.5 Z" fill="#505050"/>
<path d="M890.5,19.5 L894,23.5 L897.5,19.5 Z" fill="#505050"/>
<polyline points="885.5,17.5 887.5,19.5 891.5,15" fill="none" stroke="#505050" stroke-width="1.3"/>
<text transform="translate(930.3 22.2) scale(1 1)" style="font-size:11px;fill:#262626">M1</text>
<text transform="translate(958 22.2) scale(1 1)" style="font-size:11px;fill:#262626">M5</text>
<text transform="translate(984.3 22.2) scale(0.89 1)" style="font-size:11px;fill:#262626">M15</text>
<text transform="translate(1012.3 22.2) scale(0.89 1)" style="font-size:11px;fill:#262626">M30</text>
<text transform="translate(1043.3 22.2) scale(1 1)" style="font-size:11px;fill:#262626">H1</text>
<text transform="translate(1070.3 22.2) scale(1 1)" style="font-size:11px;fill:#262626">H4</text>
<text transform="translate(1099.2 22.2) scale(1 1)" style="font-size:11px;fill:#262626">D1</text>
<text transform="translate(1126.6 22.2) scale(1 1)" style="font-size:11px;fill:#262626">W1</text>
<text transform="translate(1153.3 22.2) scale(1 1)" style="font-size:11px;fill:#262626">MN</text>
<line x1="1640" y1="21.8" x2="1644.3" y2="17.6" stroke="#1e56c8" stroke-width="2.4"/>
<circle cx="1646.5" cy="14.3" r="3.9" fill="#fff" fill-opacity="0.3" stroke="#2a62d8" stroke-width="1.1"/>
<ellipse cx="1669.5" cy="18.5" rx="6" ry="4.6" fill="#e6e6ee" stroke="#9a9a9a" stroke-width="0.8"/>
<path d="M1665.5,22 L1666,25.5 L1669,22.5 Z" fill="#9a9a9a"/>
<circle cx="1677.6" cy="14.3" r="8.3" fill="url(#gred)"/>
<text x="1677.6" y="18.6" text-anchor="middle" style="font-family:'Liberation Serif',serif;font-size:12px;font-weight:bold;fill:#fff">1</text>
</svg></body></html>
